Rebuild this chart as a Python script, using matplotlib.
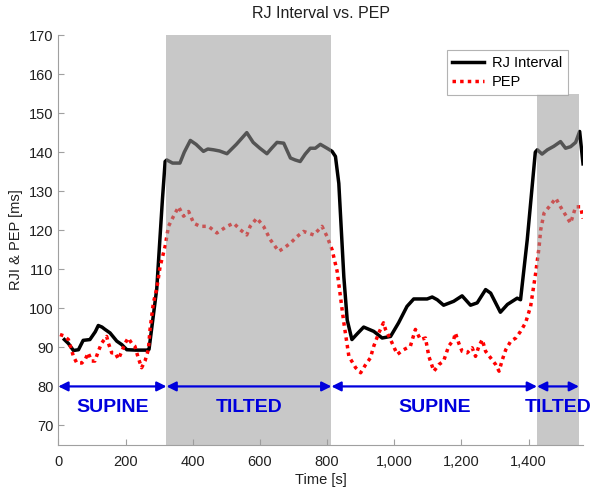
import matplotlib
matplotlib.use("Agg")
import matplotlib.pyplot as plt
from matplotlib.ticker import FuncFormatter

plt.rcParams['font.family'] = ['Liberation Sans', 'DejaVu Sans']

rj_t = [18, 30, 45, 60, 74, 94, 110, 119, 130, 139, 154, 174, 189, 204, 230, 263, 270, 293, 310, 318,
        323, 340, 362, 375, 393, 410, 432, 445, 462, 480, 502, 530, 561, 580, 600, 621, 635, 651, 671,
        691, 705, 720, 735, 750, 765, 780, 800, 815, 825, 835, 850, 860, 874, 890, 909, 939, 964, 989,
        1013, 1038, 1058, 1098, 1113, 1128, 1147, 1177, 1202, 1227, 1247, 1272, 1287, 1316, 1337, 1366,
        1376, 1396, 1420, 1426, 1440, 1456, 1475, 1495, 1510, 1525, 1540, 1552, 1562]
rj_v = [92.0, 91.0, 89.2, 89.4, 91.8, 92.0, 94.0, 95.6, 95.2, 94.6, 93.7, 91.6, 90.7, 89.4, 89.3, 89.3,
        89.5, 105.0, 128.0, 137.6, 138.0, 137.2, 137.2, 140.0, 143.0, 142.0, 140.2, 140.8, 140.6, 140.3,
        139.6, 142.0, 145.0, 142.5, 141.0, 139.6, 141.0, 142.5, 142.3, 138.5, 138.0, 137.6, 139.5, 141.0,
        141.0, 142.0, 141.0, 140.2, 138.9, 132.0, 108.0, 97.0, 92.0, 93.5, 95.2, 94.1, 92.4, 92.8, 96.3,
        100.5, 102.4, 102.4, 102.9, 102.2, 100.8, 101.8, 103.2, 100.8, 101.4, 104.8, 103.9, 99.0, 101.0,
        102.6, 102.2, 117.6, 140.0, 140.6, 139.5, 140.6, 141.5, 142.7, 141.0, 141.4, 142.5, 145.3, 137.0]

pep_t = [5, 15, 30, 45, 55, 70, 80, 89, 99, 109, 119, 129, 144, 149, 159, 169, 179, 189, 199, 208, 218,
         228, 238, 248, 258, 268, 273, 283, 293, 303, 318, 328, 343, 358, 373, 388, 403, 422, 447, 472,
         502, 522, 542, 561, 571, 591, 611, 631, 656, 671, 691, 711, 730, 760, 785, 800, 815, 830, 850,
         865, 885, 900, 915, 929, 939, 954, 968, 974, 989, 1009, 1028, 1048, 1063, 1078, 1093, 1103, 1118,
         1133, 1147, 1162, 1177, 1182, 1192, 1202, 1217, 1232, 1242, 1252, 1262, 1272, 1287, 1302, 1312,
         1322, 1332, 1347, 1362, 1376, 1391, 1406, 1421, 1431, 1436, 1446, 1461, 1481, 1495, 1510, 1525,
         1540, 1555, 1562]
pep_v = [93.3, 93.0, 92.0, 87.7, 86.0, 86.0, 86.9, 88.6, 86.5, 86.5, 89.0, 91.1, 92.8, 91.1, 88.6, 88.6,
         87.0, 89.0, 91.1, 92.4, 91.1, 90.3, 87.3, 84.8, 86.5, 89.4, 94.6, 101.4, 105.0, 110.7, 115.9,
         121.0, 123.6, 126.0, 123.6, 124.8, 121.8, 121.0, 121.0, 119.3, 121.0, 121.8, 120.1, 118.8, 121.0,
         123.1, 121.0, 117.6, 114.6, 115.4, 116.7, 118.4, 119.7, 118.8, 121.0, 118.4, 115.0, 109.5, 96.3,
         87.7, 84.8, 83.5, 85.6, 87.3, 90.3, 93.7, 96.3, 94.6, 92.0, 88.2, 89.4, 90.3, 94.6, 92.0, 92.4,
         87.7, 83.9, 85.6, 86.5, 90.3, 92.0, 93.7, 91.1, 89.0, 88.6, 89.9, 87.7, 90.3, 92.0, 89.0, 87.3,
         85.6, 83.9, 86.9, 89.4, 91.6, 92.4, 94.1, 96.3, 100.5, 109.0, 115.5, 120.1, 124.4, 126.0, 128.2,
         126.0, 123.9, 121.8, 126.0, 126.0, 123.0]

phase_edges = [0, 322, 813, 1425, 1550]
phase_labels = ["SUPINE", "TILTED", "SUPINE", "TILTED"]
tilt_bands = [(322, 813, 170), (1425, 1550, 155)]

fig = plt.figure(figsize=(6.0, 4.91), dpi=100)
ax = fig.add_axes([0.0972, 0.0937, 0.8745, 0.835])

ax.plot(rj_t, rj_v, color='black', lw=2.5, label='RJ Interval', zorder=2)
ax.plot(pep_t, pep_v, color='red', lw=2.5, ls=(0, (1, 1.2)), label='PEP', zorder=2)

for (a, b, top) in tilt_bands:
    ax.fill_between([a, b], 65, top, color=(155/255, 155/255, 155/255), alpha=0.55,
                    lw=0, zorder=3)

for i in range(len(phase_labels)):
    a, b = phase_edges[i], phase_edges[i + 1]
    ax.annotate('', xy=(a, 80), xytext=(b, 80),
                arrowprops=dict(arrowstyle='<|-|>', color='#0000DD', lw=1.6,
                                mutation_scale=14, shrinkA=0, shrinkB=0), zorder=4)
    ax.text((a + b) / 2, 74.7, phase_labels[i], color='#0000DD', fontsize=14,
            fontweight='bold', ha='center', va='center', zorder=4)

ax.set_xlim(0, 1562)
ax.set_ylim(65, 170)
ax.set_yticks(range(70, 171, 10))
ax.set_xticks(range(0, 1401, 200))
ax.xaxis.set_major_formatter(FuncFormatter(lambda v, p: f"{int(v):,}"))

for s in ['top', 'right']:
    ax.spines[s].set_visible(False)
for s in ['left', 'bottom']:
    ax.spines[s].set_color('#a0a0a0')
    ax.spines[s].set_linewidth(0.8)
ax.tick_params(direction='in', length=4, color='#a0a0a0', labelsize=10.5, labelcolor='#202020')
ax.tick_params(axis='x', pad=7)

ax.set_title('RJ Interval vs. PEP', fontsize=11.5, color='#202020', pad=12)
ax.set_xlabel('Time [s]', fontsize=10.5, color='#202020', labelpad=3)
ax.set_ylabel('RJI & PEP [ms]', fontsize=10.5, color='#202020', labelpad=4)

leg = ax.legend(loc='upper right', bbox_to_anchor=(0.985, 0.98), fontsize=10.5, frameon=True,
                fancybox=False, edgecolor='#a0a0a0', handlelength=2.2, borderpad=0.4,
                labelspacing=0.3, handletextpad=0.5)
leg.get_frame().set_linewidth(0.8)
leg.set_zorder(5)

fig.savefig('out.png', dpi=100)
